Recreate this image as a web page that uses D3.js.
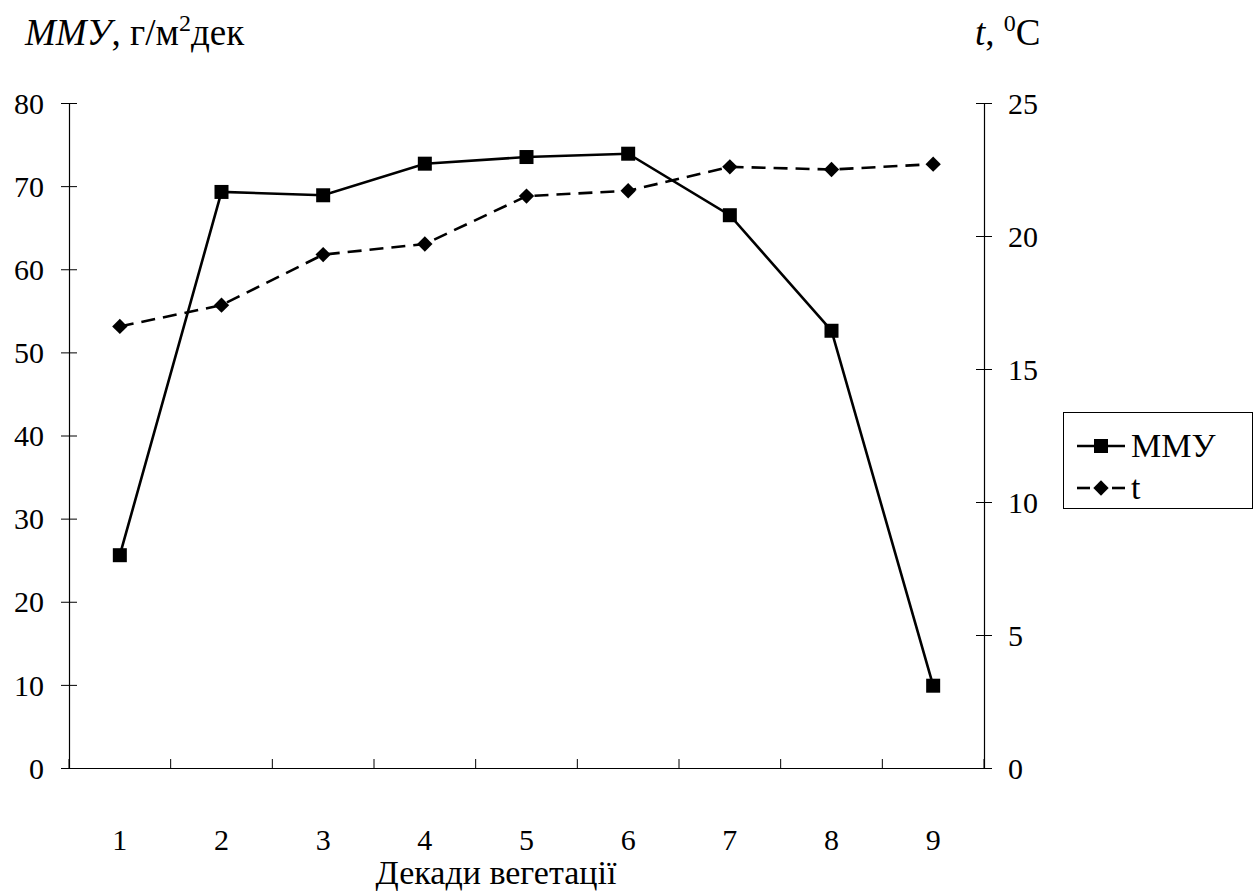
<!DOCTYPE html>
<html>
<head>
<meta charset="utf-8">
<script src="https://cdn.jsdelivr.net/npm/d3@7"></script>
<style>
  html, body { margin: 0; padding: 0; background: #fff; }
  svg, svg text { font-family: "Liberation Serif", "Times New Roman", "DejaVu Serif", serif; }
</style>
</head>
<body>
<svg id="chart" width="1259" height="893"></svg>
<script>
// Decades of the growing season
const decades = ["1", "2", "3", "4", "5", "6", "7", "8", "9"];
// ММУ, g/m² per decade (left axis)
const mmuValues = [25.6, 69.3, 68.9, 72.7, 73.5, 73.9, 66.5, 52.6, 9.9];
// Air temperature t, °C (right axis)
const tempValues = [16.6, 17.4, 19.3, 19.7, 21.5, 21.7, 22.6, 22.5, 22.7];
const leftTicks = [0, 10, 20, 30, 40, 50, 60, 70, 80];
const rightTicks = [0, 5, 10, 15, 20, 25];

const FONT = "Liberation Serif";
const svg = d3.select("#chart");
const plot = { left: 69, right: 984, top: 103, bottom: 768 };

const x = d3.scaleBand().domain(decades).range([plot.left, plot.right]);
const yL = d3.scaleLinear().domain([0, 80]).range([plot.bottom, plot.top]);
const yR = d3.scaleLinear().domain([0, 25]).range([plot.bottom, plot.top]);
const cx = d => x(d) + x.bandwidth() / 2;

// Left axis, ticks cross the axis line
const gL = svg.append("g").attr("transform", `translate(${plot.left},0)`)
  .call(d3.axisLeft(yL).tickValues(leftTicks).tickSize(8).tickPadding(17));
gL.selectAll(".tick line").attr("x1", -8).attr("x2", 8);
// Right axis
const gR = svg.append("g").attr("transform", `translate(${plot.right},0)`)
  .call(d3.axisRight(yR).tickValues(rightTicks).tickSize(8).tickPadding(16));
gR.selectAll(".tick line").attr("x1", -8).attr("x2", 8);
// Bottom axis: category labels, separators between categories
const gB = svg.append("g").attr("transform", `translate(0,${plot.bottom})`)
  .call(d3.axisBottom(x).tickSize(0));
gB.selectAll(".tick text").attr("y", 82).attr("dy", "0");
const bounds = d3.range(decades.length + 1).map(i => plot.left + i * x.step());
gB.selectAll("line.sep").data(bounds).join("line").attr("class", "sep")
  .attr("x1", d => d).attr("x2", d => d).attr("y1", -9).attr("y2", 1)
  .attr("stroke", "#000");

[gL, gR, gB].forEach(g => {
  g.attr("font-family", FONT).attr("font-size", 30);
  g.select(".domain").attr("stroke", "#000").attr("stroke-width", 1.2);
  g.selectAll(".tick line").attr("stroke", "#000");
  g.selectAll("text").attr("font-family", FONT).attr("font-size", 30).attr("fill", "#000");
});
gL.selectAll(".tick text").attr("dy", "0.34em");
gR.selectAll(".tick text").attr("dy", "0.34em");

// Series lines
const lineL = d3.line().x((d, i) => cx(decades[i])).y(d => yL(d));
const lineR = d3.line().x((d, i) => cx(decades[i])).y(d => yR(d));

svg.append("path").datum(tempValues).attr("d", lineR)
  .attr("fill", "none").attr("stroke", "#000").attr("stroke-width", 2.6)
  .attr("stroke-dasharray", "14,8");
svg.append("path").datum(mmuValues).attr("d", lineL)
  .attr("fill", "none").attr("stroke", "#000").attr("stroke-width", 2.6);

const diamond = d3.symbol().type(d3.symbolDiamond2).size(150);
svg.selectAll("path.tpt").data(tempValues).join("path").attr("class", "tpt")
  .attr("d", diamond)
  .attr("transform", (d, i) => `translate(${cx(decades[i])},${yR(d)})`)
  .attr("fill", "#000");
svg.selectAll("rect.mpt").data(mmuValues).join("rect").attr("class", "mpt")
  .attr("x", (d, i) => cx(decades[i]) - 7).attr("y", d => yL(d) - 7)
  .attr("width", 14).attr("height", 14).attr("fill", "#000");

// Axis titles
const tl = svg.append("text").attr("x", 25).attr("y", 45)
  .attr("font-family", FONT).attr("font-size", 37);
tl.append("tspan").attr("font-style", "italic").text("ММУ");
tl.append("tspan").text(", г/м");
tl.append("tspan").attr("font-size", 24).attr("dy", -14).text("2");
tl.append("tspan").attr("dy", 14).text("дек");

const tr = svg.append("text").attr("x", 975).attr("y", 45)
  .attr("font-family", FONT).attr("font-size", 37);
tr.append("tspan").attr("font-style", "italic").text("t");
tr.append("tspan").text(", ");
tr.append("tspan").attr("font-size", 24).attr("dy", -14).text("0");
tr.append("tspan").attr("dy", 14).text("C");

svg.append("text").attr("x", 496).attr("y", 884).attr("text-anchor", "middle")
  .attr("font-family", FONT).attr("font-size", 34).text("Декади вегетації");

// Legend
const lg = svg.append("g").attr("font-family", FONT);
lg.append("rect").attr("x", 1063.5).attr("y", 412.5).attr("width", 189).attr("height", 96)
  .attr("fill", "#fff").attr("stroke", "#000").attr("stroke-width", 1);
lg.append("line").attr("x1", 1077).attr("x2", 1125).attr("y1", 446).attr("y2", 446)
  .attr("stroke", "#000").attr("stroke-width", 2.6);
lg.append("rect").attr("x", 1094).attr("y", 439).attr("width", 14).attr("height", 14).attr("fill", "#000");
lg.append("text").attr("x", 1131).attr("y", 457).attr("font-size", 34).text("ММУ");
[[1077, 1090], [1112, 1125]].forEach(([a, b]) => {
  lg.append("line").attr("x1", a).attr("x2", b).attr("y1", 488).attr("y2", 488)
    .attr("stroke", "#000").attr("stroke-width", 2.6);
});
lg.append("path").attr("d", diamond).attr("transform", "translate(1101,488)").attr("fill", "#000");
lg.append("text").attr("x", 1131).attr("y", 499).attr("font-size", 34).text("t");
</script>
</body>
</html>
